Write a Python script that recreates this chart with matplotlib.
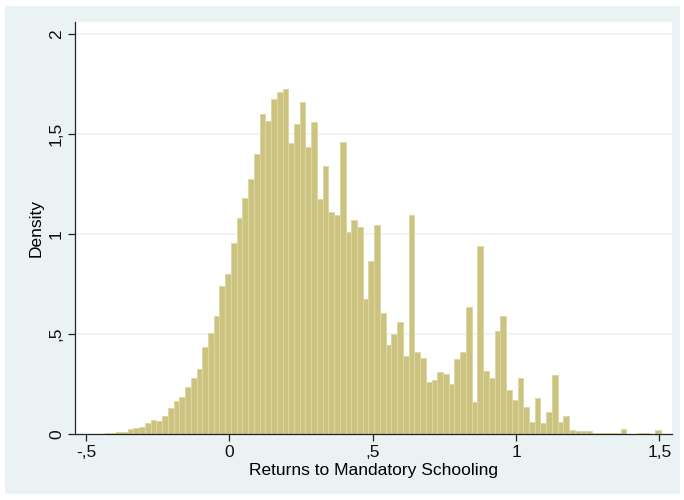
import numpy as np
import matplotlib
matplotlib.use('Agg')
import matplotlib.pyplot as plt
from matplotlib.patches import Rectangle

plt.rcParams['font.family'] = ['Liberation Sans', 'DejaVu Sans']

# histogram of estimated returns: bins of width 0.02 starting at -0.495
bin_start = -0.495
bin_width = 0.02
density = [
    0.001, 0.001, 0.002, 0.003, 0.005, 0.012, 0.012, 0.023, 0.032, 0.037,
    0.054, 0.0725, 0.067, 0.0885, 0.1285, 0.1635, 0.187, 0.234, 0.2805, 0.327,
    0.434, 0.506, 0.591, 0.739, 0.799, 0.953, 1.081, 1.181, 1.273, 1.399,
    1.599, 1.566, 1.673, 1.711, 1.726, 1.456, 1.551, 1.659, 1.434, 1.561,
    1.173, 1.341, 1.111, 1.093, 1.458, 1.011, 1.071, 1.033, 0.673, 0.866,
    1.046, 0.604, 0.443, 0.498, 0.558, 0.389, 1.096, 0.411, 0.378, 0.259,
    0.268, 0.309, 0.299, 0.248, 0.376, 0.408, 0.633, 0.161, 0.939, 0.314,
    0.279, 0.514, 0.591, 0.219, 0.171, 0.281, 0.136, 0.059, 0.180, 0.057,
    0.1125, 0.295, 0.058, 0.089, 0.021, 0.016, 0.016, 0.014, 0.0075, 0.0075,
    0.0075, 0.006, 0.004, 0.026, 0.0025, 0.001, 0.0075, 0.004, 0.001, 0.019,
]
x_ticks = [-0.5, 0, 0.5, 1, 1.5]
x_labels = ['-,5', '0', ',5', '1', '1,5']
y_ticks = [0, 0.5, 1, 1.5, 2]
y_labels = ['0', ',5', '1', '1,5', '2']

bg = '#EAF2F3'
fig = plt.figure(figsize=(6.84, 5.0), dpi=100, facecolor='white')
fig.patches.append(Rectangle((5 / 684, 6 / 500), 675 / 684, 488 / 500,
                             transform=fig.transFigure, facecolor=bg,
                             edgecolor='none', zorder=-1))

ax = fig.add_axes([75 / 684, 66 / 500, 597 / 684, 412 / 500])
ax.set_zorder(1)
ax.set_facecolor('white')

lefts = bin_start + bin_width * np.arange(len(density))
ax.bar(lefts, density, width=bin_width, align='edge',
       color='#CBC37F', edgecolor='#DDD7A3', linewidth=0.7, zorder=2)

for yv in y_ticks[1:]:
    ax.axhline(yv, color=bg, linewidth=1.1, zorder=1)

ax.set_xlim(-0.539, 1.544)
ax.set_ylim(0, 2.06)
ax.set_xticks(x_ticks)
ax.set_xticklabels(x_labels)
ax.set_yticks(y_ticks)
ax.set_yticklabels(y_labels, rotation=90, va='center')

for s in ['top', 'right']:
    ax.spines[s].set_visible(False)
for s in ['left', 'bottom']:
    ax.spines[s].set_color('#222222')
    ax.spines[s].set_linewidth(0.9)

ax.tick_params(axis='both', length=5, width=0.9, color='#222222',
               labelsize=12.5, labelcolor='#111111')
ax.tick_params(axis='y', pad=3)
ax.tick_params(axis='x', pad=3)

ax.set_xlabel('Returns to Mandatory Schooling', fontsize=12.5, labelpad=2)
ax.set_ylabel('Density', fontsize=12.5, labelpad=4)

fig.savefig('out.png', dpi=100, facecolor='white')
